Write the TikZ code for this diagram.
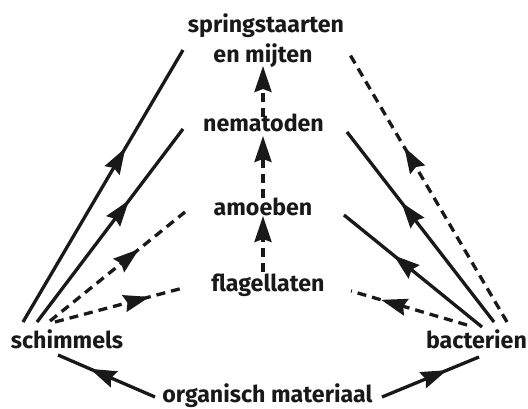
\documentclass[tikz,border=0pt]{standalone}
\usepackage{fontspec}
\setmainfont{Fira Sans}
\usetikzlibrary{arrows.meta,decorations.markings}
\tikzset{
  lbl/.style={font=\fontsize{23.2}{30}\selectfont\bfseries, inner sep=0pt, text=black!90},
  con/.style={line width=3.3pt, draw=black!90, line cap=butt},
  dsh/.style={con, dash pattern=on 9pt off 6pt},
  headtip/.style={-{Stealth[length=26pt,width=17pt,inset=3pt]}},
  midhead/.style={postaction={decorate,decoration={markings,
      mark=at position #1 with {\arrow{Stealth[length=26pt,width=17pt,inset=3pt]}}}}}
}
\begin{document}
\begin{tikzpicture}[x=1pt,y=-1pt]
\useasboundingbox (0,0) rectangle (528,409);
\fill[white] (0,0) rectangle (528,409);
% labels
\node[lbl,anchor=base] (spring) at (266,33) {springstaarten};
\node[lbl,anchor=base] (mijten) at (263,63) {en mijten};
\node[lbl,anchor=base] (nema) at (263.5,132) {nematoden};
\node[lbl,anchor=base] (amoe) at (263,215) {amoeben};
\node[lbl,anchor=base] (flag) at (268,291) {flagellaten};
\node[lbl,anchor=base] (schim) at (67,348) {schimmels};
\node[lbl,anchor=base] (bact) at (476.5,348) {bacterien};
\node[lbl,anchor=base] (org) at (267.5,402) {organisch materiaal};
% connector end points
\coordinate (s1) at (23,322);  \coordinate (t1) at (183,50);
\coordinate (s2) at (37,322);  \coordinate (t2) at (183,129);
\coordinate (s3) at (50,321);  \coordinate (t3) at (185,212);
\coordinate (s4) at (55,322);  \coordinate (t4) at (183,288);
\coordinate (b1) at (507,322); \coordinate (u1) at (349,53);
\coordinate (b2) at (494,322); \coordinate (u2) at (347,132);
\coordinate (b3) at (482,327); \coordinate (u3) at (344,215);
\coordinate (b4) at (467,325); \coordinate (u4) at (351,291);
\coordinate (o1) at (155,397); \coordinate (o2) at (58,355);
\coordinate (o3) at (382,397); \coordinate (o4) at (479,357);
\coordinate (c1a) at (263,117); \coordinate (c1b) at (263,66);
\coordinate (c2a) at (263,198); \coordinate (c2b) at (263,136);
\coordinate (c3a) at (263,272); \coordinate (c3b) at (263,216);
% left
\draw[con,midhead=0.64] (s1) -- (t1);
\draw[con,midhead=0.63] (s2) -- (t2);
\draw[dsh,midhead=0.66] (s3) -- (t3);
\draw[dsh,midhead=0.74] (s4) -- (t4);
% right
\draw[dsh,midhead=0.65] (b1) -- (u1);
\draw[con,midhead=0.63] (b2) -- (u2);
\draw[con,midhead=0.64] (b3) -- (u3);
\draw[dsh,midhead=0.74] (b4) -- (u4);
% bottom
\draw[con,midhead=0.67] (o1) -- (o2);
\draw[con,midhead=0.67] (o3) -- (o4);
% centre
\draw[dsh,headtip] (c1a) -- (c1b);
\draw[dsh,headtip] (c2a) -- (c2b);
\draw[dsh,headtip] (c3a) -- (c3b);
\end{tikzpicture}
\end{document}
